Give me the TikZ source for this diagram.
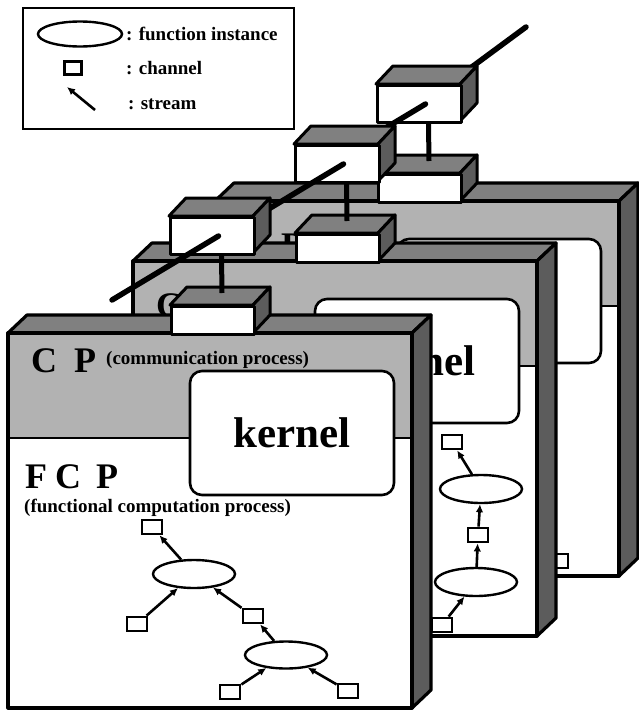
\documentclass[tikz,border=0pt]{standalone}
\usepackage{fontspec}
\setmainfont{Liberation Serif}
\usetikzlibrary{arrows.meta,shapes.geometric}

\tikzset{
  slabline/.style={line width=3.2pt, line join=round},
  cpfill/.style={fill=black!30},
  topfill/.style={fill=black!50},
  sidefill/.style={fill=black!64},
  kernelbox/.style={draw, line width=2.6pt, fill=white, rounded corners=12pt,
    minimum width=204pt, minimum height=124pt, inner sep=0pt,
    font=\bfseries\fontsize{43}{43}\selectfont},
  chan/.style={draw, line width=2.8pt, fill=white, minimum width=20pt, minimum height=14pt, inner sep=0pt},
  fi/.style={ellipse, draw, line width=2.4pt, fill=white, minimum width=82pt, minimum height=28pt, inner sep=0pt},
  flow/.style={line width=2.6pt, -{Latex[length=8pt,width=7.5pt]}},
  streamline/.style={line width=5.5pt, line cap=round},
  link/.style={line width=5pt},
  boxline/.style={line width=3pt, line join=round},
  bigt/.style={font=\bfseries\fontsize{36}{36}\selectfont, inner sep=0pt},
  smallt/.style={font=\bfseries\fontsize{19}{19}\selectfont, inner sep=0pt},
}

% slab drawn in local coordinates: front face (0,0)-(404,375)
\newcommand\slabbody[2]{%
  \fill[white] (0,0) rectangle (404,375);
  \fill[cpfill] (0,0) rectangle (404,105);
  \draw[line width=1.2pt] (0,105) -- (404,105);
  \node[kernelbox] (#1k) at (284,100) {kernel};
  \node[bigt, anchor=base west] (#1cp) at (23,39+#2) {C\hspace{17pt}P};
  \draw[slabline, topfill] (0,0) -- (19,-18) -- (423,-18) -- (404,0) -- cycle;
  \draw[slabline, sidefill] (404,0) -- (423,-18) -- (423,357) -- (404,375) -- cycle;
  \draw[slabline] (0,0) rectangle (404,375);
}
% channel box: name, x, y (front top-left), width, height
\newcommand\chanbox[5]{%
  \draw[boxline, topfill] (#2,#3) -- ++(17,-18) -- ++(#4,0) -- ++(-17,18) -- cycle;
  \draw[boxline, sidefill] (#2+#4,#3) -- ++(17,-18) -- ++(0,#5) -- ++(-17,18) -- cycle;
  \node[draw, boxline, fill=white, minimum width=#4pt, minimum height=#5pt,
    anchor=north west, inner sep=0pt] (#1) at (#2,#3) {};
}

\begin{document}
\begin{tikzpicture}[x=1pt,y=-1pt]
\useasboundingbox (0,0) rectangle (638,715);

% legend
\node[draw, line width=2.2pt, minimum width=271pt, minimum height=121pt,
  anchor=north west, inner sep=0pt] (legend) at (22,7) {};
\node[fi, minimum width=84pt, minimum height=25pt] (lf) at (80,34) {};
\node[smallt, anchor=west] (lft) at (126,34) {: function instance};
\node[chan, minimum width=17pt, minimum height=13pt] (lc) at (73,68) {};
\node[smallt, anchor=west] (lct) at (126,68) {: channel};
\coordinate (la0) at (95,110);
\coordinate (la1) at (67,87);
\draw[flow] (la0) -- (la1);
\node[smallt, anchor=west] (lst) at (128,104) {: stream};

% ---------- back slab ----------
\begin{scope}[shift={(215,201)}]
  \slabbody{b}{17}
  \node[chan] (bc1) at (343,360) {};
  \chanbox{bE}{162}{-28}{83}{28}
  \coordinate (bsrc) at (311,-174);
  \coordinate (bin) at (208,-98);
  \draw[streamline] (bsrc) -- (bin);
  \chanbox{bF}{161}{-117}{84}{37}
  \draw[link] ([xshift=9pt]bF.south) -- ([xshift=9pt,yshift=12pt]bE.north);
  \coordinate (bout) at (104,-33);
  \draw[streamline] ([xshift=6pt]bF.center) -- (bout);
\end{scope}

% ---------- middle slab ----------
\begin{scope}[shift={(133,261)}]
  \slabbody{m}{17}
  \node[chan] (mc1) at (319,181) {};
  \node[fi] (me1) at (348,228) {};
  \node[chan] (mc2) at (345,274) {};
  \node[fi] (me2) at (343,321) {};
  \node[chan] (mc3) at (309,364) {};
  \draw[flow] (me1) -- (mc1);
  \draw[flow] (mc2) -- (me1);
  \draw[flow] (me2) -- (mc2);
  \draw[flow] (mc3) -- (me2);
  \chanbox{mC}{162}{-28}{83}{28}
  \chanbox{mD}{161}{-117}{84}{37}
  \draw[link] ([xshift=9pt]mD.south) -- ([xshift=9pt,yshift=12pt]mC.north);
  \coordinate (mout) at (104,-33);
  \draw[streamline] ([xshift=6pt]mD.center) -- (mout);
\end{scope}

% ---------- front slab ----------
\begin{scope}[shift={(8,333)}]
  \slabbody{f}{0}
  \node[smallt, anchor=base west] (fcomm) at (98,31) {(communication process)};
  \node[bigt, anchor=base west] (ffcp) at (17,155) {F\hspace{8pt}C\hspace{15pt}P};
  \node[smallt, anchor=base west] (ffunc) at (16,179) {(functional computation process)};
  \node[chan] (fc1) at (144,194) {};
  \node[fi] (fe1) at (186,241) {};
  \node[chan] (fc2) at (129,291) {};
  \node[chan] (fc3) at (245,283) {};
  \node[fi, minimum height=27pt] (fe2) at (278,322) {};
  \node[chan] (fc4) at (222,359) {};
  \node[chan] (fc5) at (340,358) {};
  \draw[flow] (fc2) -- (fe1);
  \draw[flow] (fe1) -- (fc1);
  \draw[flow] (fc3) -- (fe1);
  \draw[flow] (fe2) -- (fc3);
  \draw[flow] (fc4) -- (fe2);
  \draw[flow] (fc5) -- (fe2);
  \chanbox{fA}{162}{-28}{83}{28}
  \chanbox{fB}{161}{-117}{84}{37}
  \draw[link] ([xshift=9pt]fB.south) -- ([xshift=9pt,yshift=12pt]fA.north);
  \coordinate (fout) at (104,-33);
  \draw[streamline] ([xshift=6pt]fB.center) -- (fout);
\end{scope}
\end{tikzpicture}
\end{document}
